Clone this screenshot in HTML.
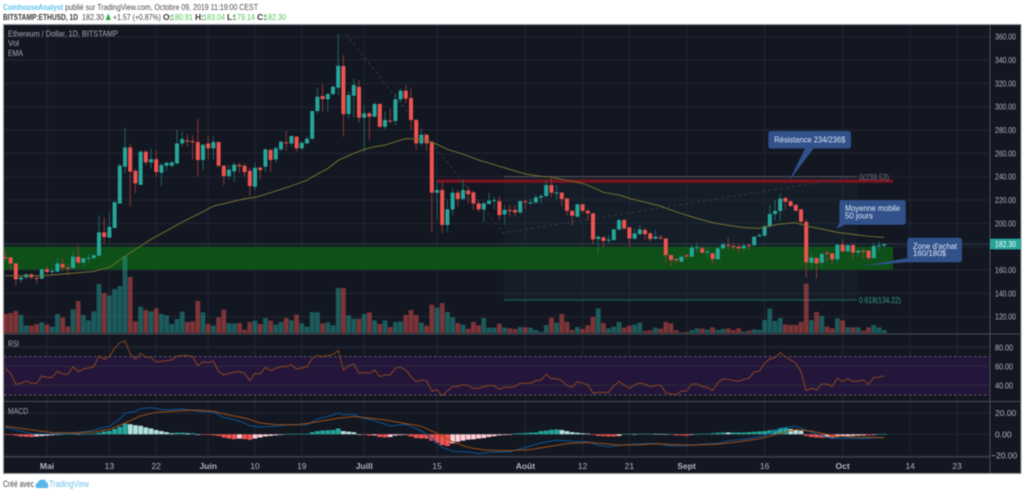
<!DOCTYPE html>
<html lang="fr">
<head>
<meta charset="utf-8">
<title>ETHUSD chart</title>
<style>
html,body{margin:0;padding:0;background:#fff;width:1024px;height:494px;overflow:hidden}
svg{display:block;font-family:"Liberation Sans",sans-serif;filter:blur(0.4px)}
</style>
</head>
<body>
<svg id="chart" width="1024" height="494" viewBox="0 0 1024 494" xmlns="http://www.w3.org/2000/svg">
  <rect x="0" y="0" width="1024" height="494" fill="#ffffff"/>
  <text x="3" y="10" font-size="8.5" font-weight="bold" fill="#5cc3f0" textLength="60" lengthAdjust="spacingAndGlyphs">CoinhouseAnalyst</text>
  <text x="65" y="10" font-size="8.5" fill="#4a4a4a" textLength="193" lengthAdjust="spacingAndGlyphs">publié sur TradingView.com, Octobre 09, 2019 11:19:00 CEST</text>
  <text x="3" y="20" font-size="8.5" font-weight="bold" fill="#333" textLength="75" lengthAdjust="spacingAndGlyphs">BITSTAMP:ETHUSD, 1D</text>
  <text x="82" y="20" font-size="8.5" fill="#444" textLength="22" lengthAdjust="spacingAndGlyphs">182.30</text>
  <polygon points="105.5,20 111,20 108.2,13.5" fill="#2eaa3c"/>
  <text x="113" y="20" font-size="8.5" fill="#444" textLength="48" lengthAdjust="spacingAndGlyphs">+1.57 (+0.87%)</text>
  <text x="163" y="20" font-size="8.5" font-weight="bold" fill="#333">O:</text>
  <text x="171" y="20" font-size="8.5" fill="#55c455" textLength="22" lengthAdjust="spacingAndGlyphs">180.91</text>
  <text x="195" y="20" font-size="8.5" font-weight="bold" fill="#333">H:</text>
  <text x="203" y="20" font-size="8.5" fill="#55c455" textLength="22" lengthAdjust="spacingAndGlyphs">183.04</text>
  <text x="227" y="20" font-size="8.5" font-weight="bold" fill="#333">L:</text>
  <text x="233" y="20" font-size="8.5" fill="#55c455" textLength="22" lengthAdjust="spacingAndGlyphs">179.14</text>
  <text x="257" y="20" font-size="8.5" font-weight="bold" fill="#333">C:</text>
  <text x="264" y="20" font-size="8.5" fill="#55c455" textLength="22" lengthAdjust="spacingAndGlyphs">182.30</text>

  <rect x="3.5" y="24.5" width="1017.5" height="449" fill="#131722" stroke="#9a9a9a" stroke-width="1"/>
  <g id="grid"></g>
  <rect x="4" y="356.6" width="986" height="38.4" fill="#24163a"/>
  <g id="rsi-grid"></g>
  <line x1="4" x2="990" y1="356.6" y2="356.6" stroke="#5a5c66" stroke-dasharray="2.5 2.5"/>
  <line x1="4" x2="990" y1="395" y2="395" stroke="#5a5c66" stroke-dasharray="2.5 2.5"/>

  <rect x="504" y="176.5" width="353" height="123.5" fill="#1a2c35" fill-opacity="0.35"/>
  <rect x="4" y="246.7" width="889" height="23" fill="#0e5018"/>
  <rect x="436.7" y="179.4" width="456.3" height="3.4" fill="#7a1420"/>
  <line x1="504" x2="857" y1="176.6" y2="176.6" stroke="#50535c" stroke-width="1"/>
  <line x1="504" x2="857" y1="300" y2="300" stroke="#1f645f" stroke-width="1"/>
  <line x1="4" x2="990" y1="243.9" y2="243.9" stroke="#2c3e45" stroke-width="1"/>
  <polyline points="346,34 503,233 857,176.5" fill="none" stroke="#343844" stroke-width="1" stroke-dasharray="3 3"/>
  <text x="859" y="180" font-size="8.5" fill="#74777f" textLength="30" lengthAdjust="spacingAndGlyphs">0(239.53)</text>
  <text x="859" y="303" font-size="8.5" fill="#2f9e8f" textLength="42" lengthAdjust="spacingAndGlyphs">0.618(134.22)</text>

  <g id="volume"></g>
  <g id="candles"></g>
  <polyline id="ema" fill="none" stroke="#77702f" stroke-width="1"/>
  <polyline id="rsi" fill="none" stroke="#8a4620" stroke-width="1"/>
  <g id="hist"></g>
  <polyline id="macd" fill="none" stroke="#0c5596" stroke-width="1"/>
  <polyline id="signal" fill="none" stroke="#a04f14" stroke-width="1"/>

  <line x1="4" x2="1021" y1="334" y2="334" stroke="#4a4d57"/>
  <line x1="4" x2="1021" y1="401.5" y2="401.5" stroke="#4a4d57"/>
  <line x1="4" x2="990" y1="457" y2="457" stroke="#4a4d57"/>
  <line x1="990" x2="990" y1="25" y2="473" stroke="#4a4d57"/>
  <g id="labels"></g>

  <rect x="990" y="238.7" width="31" height="10.6" fill="#26a69a"/>
  <text x="995" y="247" font-size="8.5" fill="#ffffff" textLength="21" lengthAdjust="spacingAndGlyphs">182.30</text>

  <text x="8" y="36.5" font-size="8.5" fill="#a8abb3" textLength="110" lengthAdjust="spacingAndGlyphs">Ethereum / Dollar, 1D, BITSTAMP</text>
  <text x="8" y="46" font-size="8.5" fill="#a8abb3" textLength="11" lengthAdjust="spacingAndGlyphs">Vol</text>
  <text x="8" y="56" font-size="8.5" fill="#a8abb3" textLength="15" lengthAdjust="spacingAndGlyphs">EMA</text>
  <text x="8" y="346.5" font-size="8.5" fill="#a8abb3" textLength="11" lengthAdjust="spacingAndGlyphs">RSI</text>
  <text x="8" y="414" font-size="8.5" fill="#a8abb3" textLength="20" lengthAdjust="spacingAndGlyphs">MACD</text>

  <path d="M771,131 H848 Q851,131 851,134 V145.5 Q851,148.5 848,148.5 H813.5 L789,181 L805,148.5 H771 Q768.3,148.5 768.3,145.5 V134 Q768.3,131 771,131 Z" fill="#31518b"/>
  <text x="774.3" y="142.5" font-size="8.5" fill="#dfe6f2" textLength="71" lengthAdjust="spacingAndGlyphs">Résistance 234/236$</text>
  <path d="M842,200.3 H903 Q905.7,200.3 905.7,203 V222 Q905.7,224.7 903,224.7 H845 L836.7,228.5 L839.5,222 V203 Q839.5,200.3 842,200.3 Z" fill="#31518b"/>
  <text x="845" y="211" font-size="8.5" fill="#dfe6f2" textLength="55" lengthAdjust="spacingAndGlyphs">Moyenne mobile</text>
  <text x="845" y="218.5" font-size="8.5" fill="#dfe6f2" textLength="28" lengthAdjust="spacingAndGlyphs">50 jours</text>
  <path d="M910,237.7 H959 Q962,237.7 962,240.5 V259.5 Q962,262.3 959,262.3 H906.5 L861.7,266 L907.3,258 V240.5 Q907.3,237.7 910,237.7 Z" fill="#31518b"/>
  <text x="913" y="249" font-size="8.5" fill="#dfe6f2" textLength="44" lengthAdjust="spacingAndGlyphs">Zone d'achat</text>
  <text x="913" y="256" font-size="8.5" fill="#dfe6f2" textLength="33" lengthAdjust="spacingAndGlyphs">160/180$</text>

  <text x="3" y="487" font-size="9" fill="#444" textLength="31" lengthAdjust="spacingAndGlyphs">Créé avec</text>
  <path d="M36,488 Q34.5,483 38,482.5 Q39,479 42,480 Q45,478.5 46,482 Q49,483 48,488 Z" fill="#5bb6e8"/>
  <text x="49" y="487" font-size="9" fill="#6cc0ec" textLength="40" lengthAdjust="spacingAndGlyphs">TradingView</text>
</svg>
<script>
const opens = [
171,170.8,165.7,152,153.7,156.3,153.2,152.6,160.6,158.3,
158.6,165.1,162,161.7,171.4,166.3,169.7,170.3,172.3,192.3,
187.7,196,217,248.6,265.1,245,233,261.4,252.3,255,
243.4,249.4,249.4,251.4,268.5,271,270.5,269.7,254.3,268.5,
264.3,269.7,249.4,240.6,244.5,250,249.4,245,231.4,247.7,
248.6,262.8,254.8,263.4,269.5,268.5,274.3,264.3,268.5,272.5,
296.3,309.1,306.3,310.8,316.3,334.8,293.7,309.4,317.1,290.6,
294.3,291.4,302.3,282.8,288,287.7,306.3,313.7,307.4,288.6,
268.6,276,270,226.3,228.6,198.6,212,226.3,220.8,228,
226.6,217.1,212,216.6,219.4,219,207.7,211.4,211.4,209.4,
219,217.5,218,222,223.4,232.8,226,226.3,221.4,210.8,
205.7,216.3,210.8,208.6,186.6,188,185.6,185.7,194.8,202.8,
196.6,187,190.8,194.3,191.4,187,188,187.1,172.8,169.4,
167.2,172.6,171.4,179,178.6,175.4,174.3,169.2,178.6,181.6,
180.6,180,178.6,181.4,181.2,189,189.5,197.7,208,210.6,
221.8,218.9,215.7,212,201.2,166.3,170.3,166.3,174.9,174.3,
169.2,181.7,176,181.4,175,176.6,176.6,170.3,180.4,180.91
];
const closes = [
170.5,165.7,152,153.7,156.3,153.7,152.8,160.6,158.3,159.4,
165.7,162.3,161.7,171.4,166.3,170,170.6,172.6,192.3,188.3,
197,218,249.5,265.1,244.3,234.3,261.4,252.3,255,244,
250,252,252.3,268.5,272.3,270.3,269.5,254.3,267.4,264.3,
269.7,249.4,240.5,246,250.3,249,244,232,247.7,245.7,
263.4,254.3,264.3,270,269,274.8,264.3,269.1,272.5,296.3,
308.5,306.5,310.8,317.1,335.1,293.7,310,318.6,290.6,294.3,
291.4,302.3,282.8,288.6,287.5,306.3,313.7,307,288.6,268.6,
276,268.6,226.3,228.6,198.6,212,226.3,220.8,228.6,225,
217.1,212,217.1,219.4,220,207.1,211.4,211,209.4,219,
218.6,218,222.3,223.4,232.8,226.3,226.5,220.8,210.8,206.6,
216.3,210.8,208.6,186.3,188.6,185,186,194.8,202.8,195.7,
187,191.4,194.8,190.8,186.6,188.6,187.6,172.8,168.6,168.4,
171.4,172,179.2,179.6,174.9,175.9,169.5,178.6,182,181,
180,178.6,180.9,180.6,188.6,190,197.7,208,210.6,221.2,
218.6,214.9,210.9,201.5,166.6,170.6,165.7,173.7,174.3,169.2,
181.7,176,181.2,174.9,176.6,176.2,170.3,180.6,181.2,182.3
];
const highs = [
177,171.4,165.7,154.8,157,157.5,155.7,161,163.4,161.4,
170,170,164.3,176.6,181.4,171,173.7,173.5,207,205,
209,219.4,251.4,281.4,268.5,247,262.8,262.8,264,262.8,
252,252.5,253,280,278.5,276.5,275.7,289.4,268,274.8,
274.8,270,250,250,252,252,251,248,252,249,
264.3,264,266,270.5,279.4,275.5,275,270,275,296.5,
316.5,319.4,312,318,362.8,344.3,313.4,324.3,322.8,301.4,
296,303.7,303,295.7,298.6,311.4,315.7,318.6,315.7,290,
280,276.3,270.5,236.6,235.7,220.6,230,228.6,237,231.4,
228,219.4,219,226.3,222.8,223.4,215.7,215.7,215.7,220,
220,221.4,224.8,224.8,237,240,232.8,227,222,211,
217,217,212,209,189.4,189,190,196,204,204,
197,195.7,198,196.5,192.8,194.8,190,187.5,173,170,
173,174.3,181.5,183.5,180.6,180,175,180,183.5,188,
183.5,182.3,182,182.3,189,191.5,198,215.7,220,225,
222,220,217,212.5,203.5,175,171,175.7,177.2,175,
182,186.3,182,182,178,178,177,183.5,185,183.04
];
const lows = [
168.6,160.6,146.6,149.1,152,152,148.6,152.4,156.6,155.7,
158.4,158.6,155.7,161.5,165.7,162.8,165.7,169,172,182.8,
187.4,195.7,216.7,242.8,214.3,225.7,232.8,250,247,240,
232,245,248,250.5,266,265.7,254.8,240,245.7,254.8,
254.8,248,232.8,237.7,235.7,243,240,223.4,228,237.7,
244,244,252,262,262,266,261.4,263,268,272,
294,296,295.7,310,310,274.3,290,290.8,286.3,261.4,
271.4,290.8,281.4,280.6,285.7,284.3,303.4,302.8,280,262.9,
266.3,262.3,192,202.8,191.4,192.3,207,214.3,220,217,
211.4,210,201.4,217,212,202.8,198.6,205.7,205.7,208,
212,215.7,217,217,222,222.8,220,214.8,207,198.6,
205,209,202.8,182.3,174.3,178.6,182.8,185,194,194,
180,185.7,190,186.3,184.3,186,186,166.3,163.4,165.7,
166.3,170,171,175.7,174.3,170.9,165.2,169,177.2,177.2,
176.6,174.9,177,177.7,181,188,188.6,196,202.9,202.3,
212,214,210,199.5,153.5,161.5,152.9,161.5,167.2,165.2,
165.7,175,175,170,171.4,170,168,169,177,179.14
];
const volumes = [
57,60,66,54,23,22,27,32,25,19,
57,47,20,71,96,54,38,65,147,120,
113,132,141,230,168,35,79,69,65,74,
57,53,27,42,64,33,35,96,62,27,
22,47,70,29,29,30,10,33,37,27,
45,37,25,33,45,38,55,29,19,63,
62,29,32,23,135,135,53,43,43,57,
62,38,27,38,18,33,35,54,69,54,
31,22,85,76,90,63,47,30,25,13,
33,23,45,16,16,28,16,14,12,18,
17,16,9,4,24,46,31,57,33,9,
18,12,23,48,74,30,14,19,33,16,
22,25,31,6,8,16,13,33,29,8,
2,3,9,14,13,10,17,9,12,14,
9,14,4,7,11,9,39,73,36,45,
26,24,24,33,148,39,63,51,19,14,
44,38,17,17,17,7,17,24,17,9
];
const emaDays = [0,7,13,17,20,22,24,26,28,31,33,35,38,40,43,46,48,51,54,56,58,60,62,64,67,69,71,73,75,77,79,81,83,85,87,89,91,94,97,100,103,105,108,111,113,115,118,120,124,126,128,130,133,136,139,142,145,147,149,152,154,157,160,163,166,169];
const emaValues = [155.1,155,157.4,158.8,162.3,168.6,174.8,180.5,186.3,193.7,198.5,203.4,210,214.8,218,221.1,222.3,226.3,230.6,233.7,237,242.3,247,254,260,263.4,265.7,267.1,270,272.6,272.3,270.8,267.7,263.4,260.8,257.7,254.3,250.3,246.3,242.3,240.3,239.7,236.8,234.3,230.8,226.6,224.3,221.4,217,214.8,211.4,208.4,204.3,200.6,198.3,196.3,195.7,197.7,199.5,200.6,197.7,195.2,192.3,190.6,188.9,188];
const rsiValues = [
57.9,52.6,41.1,42.1,44.6,42.1,42.1,49.8,48.4,48.4,
54.7,51.9,51.6,59.6,54.4,57.2,58.2,59.6,70.9,67.4,
70.2,78.9,84.9,86.7,73,67.4,73.7,69.5,69.8,64.6,
65.3,66,66.7,70.9,71.2,71.2,70.2,60.7,64.9,63.9,
65.3,54.4,50.9,52.6,54,54.4,52.6,44.9,52.6,51.9,
58.9,55.4,57.9,59.6,59.6,61.8,56.8,58.2,59.6,68.4,
71.2,70.2,71.2,72.6,76.5,56.1,60.4,62.5,52.6,53.7,
52.6,56.1,49.1,50.9,50.9,57.9,58.9,56.1,49.1,43.9,
45.6,44.6,34,35.1,29.1,34,38.6,38.6,40.7,39.6,
36.8,36.8,38.6,39.6,39.6,35.8,37.9,37.9,38.6,42.1,
42.1,42.1,44.9,45.6,51.6,47,47,44.9,39.6,37.9,
43.9,42.1,40.7,31.6,32.6,32.6,32.6,39.3,43.9,40.4,
36.8,40.4,42.5,41.1,38.6,39.6,40,32.3,30.9,30.2,
34,34,41.4,41.4,38.6,37.9,34.4,42.8,46.7,46.3,
44.9,44.2,46.3,47.4,54,55.1,63.2,67.7,69.1,74.4,
70.2,66.7,63.2,54.4,34.4,36.8,35.1,41.4,41.4,38.6,
47.4,43.9,47,44.2,44.6,45.3,41.1,48.1,48.8,49.8
];
const macdDays = [0,2,5,8,12,16,18,20,22,23,25,26,28,30,32,34,37,40,42,45,47,49,52,55,58,60,63,64,65,67,69,71,74,77,80,82,84,86,89,91,93,97,100,103,106,109,112,114,116,119,122,125,128,131,134,137,139,143,146,149,152,154,156,159,162,165,169];
const macdValues = [6.3,4.1,0.6,0.3,0.9,2.8,5.3,7.5,14.1,19.7,21.6,24.1,25,23.1,23.1,23.8,21.6,20.9,15.9,12.5,8.1,6.9,7.5,9.1,9.1,14.4,18.1,20,18.4,18.4,15,12.8,7.8,9.4,3.1,-3.8,-12.2,-15.9,-16.6,-18.1,-16.9,-16.3,-12.3,-8,-5.5,-6.7,-7,-10.2,-11.7,-9.8,-8.9,-8.6,-10.8,-10.5,-9.2,-8.6,-6.1,-3.9,-1.4,5.8,7.7,3.9,0.2,-3.9,-3.6,-3.9,-3];
const signalDays = [0,3,6,9,13,17,20,23,26,29,32,36,40,43,46,49,52,56,59,64,67,70,73,76,80,83,86,89,92,95,97,101,105,108,112,115,118,122,125,129,132,137,141,145,149,152,155,159,163,169];
const signalValues = [7.5,5.6,3.4,1.6,1.3,2.2,4.7,10.6,17.2,20.6,21.6,22.8,21.6,18.1,15.3,10.6,9.1,8.8,10.9,15,16.6,15.3,13.4,10.9,7.5,0.9,-7,-12.2,-14.7,-15.3,-15.3,-14.2,-11.1,-8.6,-7.7,-8.6,-10.2,-9.8,-8.9,-9.8,-10.2,-9.2,-7,-4.2,0.8,4.5,3,-1.1,-2.7,-3];
const histValues = [
-0.3,-0.5,-1.2,-2,-2.3,-2.5,-2,-1.6,-1.3,-0.9,
-0.3,0.2,0.5,0.7,0.3,0.3,0.5,0.7,1.5,2.5,
3.2,5,7,10,9.5,8.5,8,6.5,5.5,4,
3,2,1,1.5,1.5,1,1,0,-0.3,-0.5,
-1,-1.5,-3,-4,-4.5,-4,-4.5,-5.2,-4,-3,
-2,-1.5,-1,-0.3,0.3,0.5,0.5,0.5,0.5,2,
3,3.5,3.8,4,5.5,3,2.5,2,0,-0.3,
-1.2,-1,-2.5,-2.8,-2.5,-1.2,-0.8,-0.5,-2,-3.5,
-3.8,-4,-6,-8,-10,-11,-8.5,-7,-6,-5,
-4.7,-4,-3.5,-2.5,-1.8,-1,-0.7,-0.3,0.8,1,
1.3,1.6,1.8,3,3.5,4.2,4.5,4,3,2,
1.5,1,0.7,-0.4,-1.5,-1.7,-2,-2,-1.5,0.3,
0.4,0.2,0.5,0.5,0.5,0.4,0.3,0.2,0.2,-1,
-1,-1.3,-0.5,0.3,0.6,0.6,1,1.5,1.8,1.7,
1.7,1.7,1.7,2,2.3,2.7,3,3.7,4.2,5.7,
6,5,4,3.4,-1.5,-2.5,-3,-3.2,-3,-3.3,
-2.5,-2,-1.7,-1.5,-1.2,-1,-1,-0.5,0.3,0.3
];
const timeTickDays = [8,20,29,39,48,57,69,83,100,111,120,131,146,161,174,183];
const timeTickLabels = ["Mai","13","22","Juin","10","19","Juill","15","Août","12","21","Sept","16","Oct","14","23"];
const timeTickBold = [true,false,false,true,false,false,true,false,true,false,false,true,false,true,false,false];
const priceTicks = [120,140,160,180,200,220,240,260,280,300,320,340,360];
const rsiTicks = [80,60,40];
const macdTicks = [20,0,-20];

const xDay = i => 5.4 + 5.2 * i;
const yPrice = p => 316.7 - (p - 120) * 1.1667;
const yVol = v => 333 - v / 3;
const yRsi = r => 385.3 - (r - 40) * 0.95;
const yMacd = m => 434.3 - m * 1.067;

const NS = 'http://www.w3.org/2000/svg';
function mk(parentId, tag, props) {
  const node = document.createElementNS(NS, tag);
  for (const k in props) node.setAttribute(k, props[k]);
  document.getElementById(parentId).appendChild(node);
  return node;
}

priceTicks.forEach(t => {
  const el = mk('grid', 'line', {x1: 4, x2: 990, y1: yPrice(t), y2: yPrice(t), stroke: '#232733'});
  
  
  const lb = mk('labels', 'text', {x: 995, y: yPrice(t) + 3, 'font-size': 8.5, fill: '#b2b5be', textLength: 21, lengthAdjust: 'spacingAndGlyphs'});
  
  
  lb.textContent = t.toFixed(2);
});
timeTickDays.forEach((d, k) => {
  const el = mk('grid', 'line', {x1: xDay(d), x2: xDay(d), y1: 25, y2: 457, stroke: '#232733'});
  
  
  const lb = mk('labels', 'text', {x: xDay(d), y: 469, 'font-size': 8.5, fill: '#b2b5be', 'text-anchor': 'middle', 'font-weight': timeTickBold[k] ? 'bold' : 'normal'});
  
  
  lb.textContent = timeTickLabels[k];
});
rsiTicks.forEach(t => {
  const el = mk('rsi-grid', 'line', {x1: 4, x2: 990, y1: yRsi(t), y2: yRsi(t), stroke: '#2a2e3c'});
  
  
  const lb = mk('labels', 'text', {x: 995, y: yRsi(t) + 3, 'font-size': 8.5, fill: '#b2b5be', textLength: 18, lengthAdjust: 'spacingAndGlyphs'});
  
  
  lb.textContent = t.toFixed(2);
});
macdTicks.forEach(t => {
  const el = mk('rsi-grid', 'line', {x1: 4, x2: 990, y1: yMacd(t), y2: yMacd(t), stroke: '#232733'});
  
  
  const lb = mk('labels', 'text', {x: t < 0 ? 991 : 995, y: yMacd(t) + 3, 'font-size': 8.5, fill: '#b2b5be'});
  
  
  lb.textContent = (t < 0 ? '\u2212' + Math.abs(t).toFixed(2) : t.toFixed(2));
});

volumes.forEach((v, i) => {
  const up = closes[i] >= opens[i];
  const el = mk('volume', 'rect', {x: xDay(i) - 2.4, y: yVol(v), width: 4.8, height: 333 - yVol(v), fill: up ? '#26a69a' : '#ef5350', 'fill-opacity': 0.48});
  
  
});

opens.forEach((o, i) => {
  const up = closes[i] >= o;
  const x = xDay(i);
  const wick = mk('candles', 'line', {x1: x, x2: x, y1: yPrice(highs[i]), y2: yPrice(lows[i]), stroke: up ? '#1b6e68' : '#9a3a3b', 'stroke-width': 0.9});
  
  
  const top = yPrice(Math.max(o, closes[i]));
  const h = Math.max(1, Math.abs(yPrice(o) - yPrice(closes[i])));
  const body = mk('candles', 'rect', {x: x - 2, y: top, width: 4, height: h, fill: up ? '#26a69a' : '#ef5350'});
  
  
});

document.getElementById('ema').setAttribute('points', emaDays.map((d, k) => xDay(d) + ',' + yPrice(emaValues[k])).join(' '));
document.getElementById('rsi').setAttribute('points', rsiValues.map((r, i) => xDay(i) + ',' + yRsi(r)).join(' '));
document.getElementById('macd').setAttribute('points', macdDays.map((d, k) => xDay(d) + ',' + yMacd(macdValues[k])).join(' '));
document.getElementById('signal').setAttribute('points', signalDays.map((d, k) => xDay(d) + ',' + yMacd(signalValues[k])).join(' '));

histValues.forEach((h, i) => {
  const prev = i ? histValues[i - 1] : 0;
  const color = h >= 0 ? (h >= prev ? '#26a69a' : '#b2dfdb') : (h <= prev ? '#ef5350' : '#ffcdd2');
  const y0 = yMacd(0), y1 = yMacd(h);
  const el = mk('hist', 'rect', {x: xDay(i) - 2.4, y: Math.min(y0, y1), width: 4.8, height: Math.max(0.6, Math.abs(y1 - y0)), fill: color});
  
  
});
</script>
</body>
</html>
